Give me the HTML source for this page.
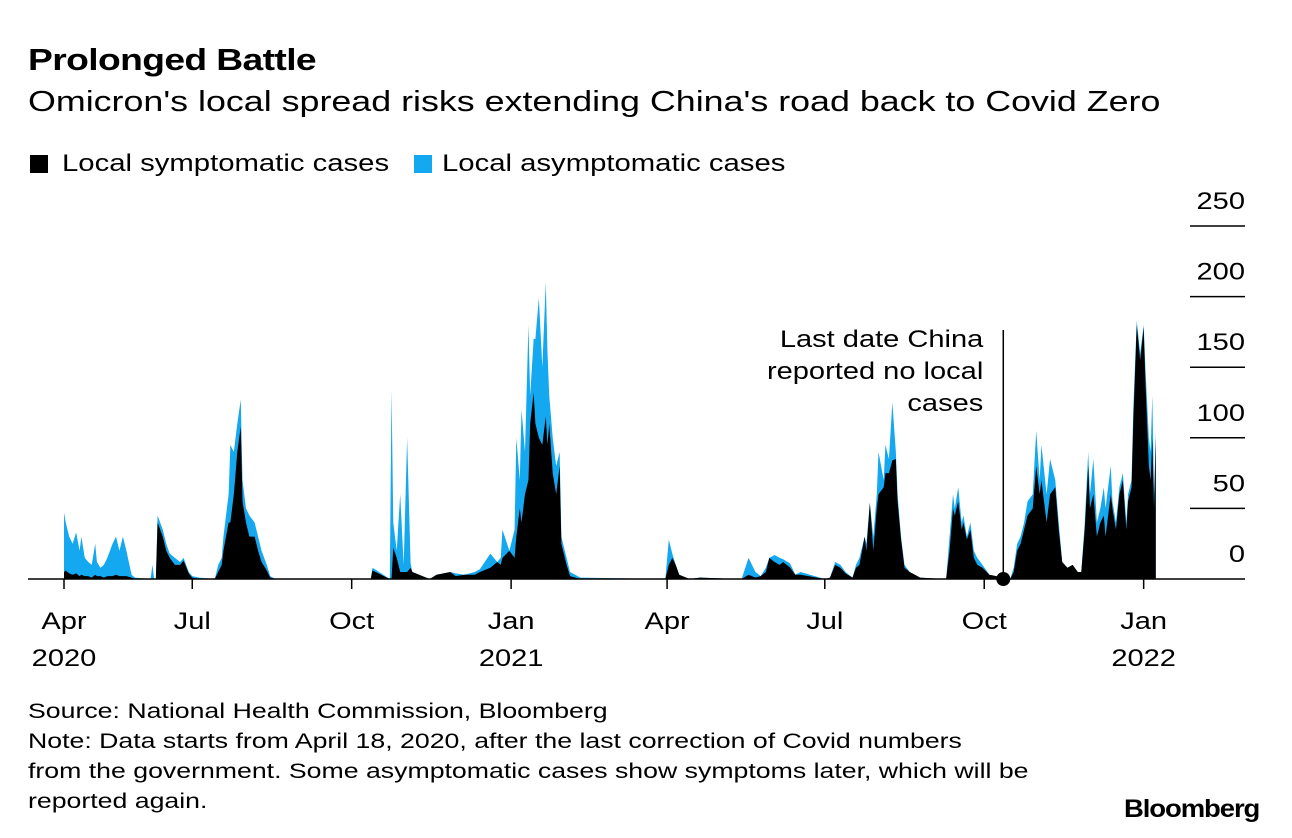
<!DOCTYPE html>
<html><head><meta charset="utf-8"><style>
body{margin:0;background:#fff;font-family:"Liberation Sans",Arial,sans-serif;color:#000;}
#wrap{position:relative;width:1292px;height:838px;overflow:hidden;}
.t{position:absolute;white-space:nowrap;transform-origin:0 0;}
</style></head><body>
<div id="wrap">
<div class="t" style="left:28px;top:42px;font-size:31px;font-weight:bold;letter-spacing:-0.5px;transform:scaleX(1.2)">Prolonged Battle</div>
<div class="t" style="left:28px;top:86px;font-size:29px;transform:scaleX(1.235)">Omicron's local spread risks extending China's road back to Covid Zero</div>
<div class="t" style="left:30px;top:150px;font-size:24px"><span style="display:inline-block;width:18px;height:18px;background:#000;vertical-align:-2px;margin-right:14px"></span><span style="display:inline-block;transform:scaleX(1.22);transform-origin:0 0">Local symptomatic cases</span></div>
<div class="t" style="left:414px;top:150px;font-size:24px"><span style="display:inline-block;width:18px;height:18px;background:#14a8f0;vertical-align:-2px;margin-right:10px"></span><span style="display:inline-block;transform:scaleX(1.22);transform-origin:0 0">Local asymptomatic cases</span></div>
<svg id="chart" width="1292" height="838" style="position:absolute;left:0;top:0"></svg>
<div class="t" style="left:28px;top:697px;font-size:21px;line-height:30px;transform:scaleX(1.27)">Source: National Health Commission, Bloomberg<br>Note: Data starts from April 18, 2020, after the last correction of Covid numbers<br>from the government. Some asymptomatic cases show symptoms later, which will be<br>reported again.</div>
<div class="t" style="left:1124px;top:795px;font-size:25px;font-weight:bold;letter-spacing:-1px;transform:scaleX(1.1)">Bloomberg</div>
</div>
<script>
const days=[0,1,3,5,7,9,10,12,14,16,18,19,21,23,25,28,30,32,34,36,39,41,50,51,52,53,54,57,59,61,64,67,69,72,74,78,87,89,91,92,95,96,98,100,102,103,105,107,110,112,114,117,119,122,
177,178,188,189,190,192,194,196,198,200,201,211,215,223,226,231,237,240,246,250,252,253,257,260,261,263,264,266,268,269,271,272,274,276,278,279,280,282,284,286,287,290,292,298,
346,347,349,351,353,355,361,367,389,391,395,399,402,405,407,410,413,415,419,422,425,439,442,445,448,451,455,457,459,462,463,465,467,469,470,473,474,476,478,480,481,483,485,488,491,494,508,509,511,513,514,516,518,519,521,523,525,527,530,534,
546,548,550,552,554,556,559,561,563,564,567,569,572,574,576,579,582,585,587,589,591,592,594,596,598,600,601,604,605,607,609,611,613,614,616,617,619,621,623,624,626,627,628,629,630];
const symptomatic=[5,6,4,3,4,2,3,2,2,1,3,2,2,1,2,2,3,2,2,2,1,0,0,0,0,0,40,30,20,15,10,10,13,4,1,0,0,5,10,20,40,40,60,90,108,55,40,30,30,20,12,6,1,0,
0,6,0,0,22,15,5,5,5,8,5,0,3,5,2,3,3,5,8,12,10,15,20,15,30,50,40,60,70,110,132,110,100,95,115,95,110,75,60,80,25,10,2,0,0,
0,10,15,10,3,0,1,0,0,3,1,2,5,15,12,10,12,8,3,3,0,1,10,8,4,1,8,10,30,20,54,20,50,60,65,75,75,84,85,55,28,8,5,3,1,0,0,20,50,45,55,35,40,28,35,15,10,8,3,0,
5,20,25,35,45,50,80,60,70,40,60,65,35,12,8,10,5,5,35,80,50,60,30,40,45,30,60,50,35,60,70,35,55,65,110,180,155,178,140,80,70,100,50,100,90];
const asymptomatic=[42,34,26,22,29,18,27,13,10,9,22,10,6,9,13,23,27,18,28,18,2,1,0,10,0,0,5,5,5,3,5,2,2,1,1,1,0,5,5,10,20,55,30,20,19,15,10,15,10,10,8,4,1,0,
0,2,0,134,18,5,55,5,95,3,0,0,0,0,2,0,2,2,10,0,5,20,0,20,70,20,80,30,110,20,38,60,99,55,95,65,20,25,20,10,5,5,3,1,0,
0,18,3,0,0,0,0,0,0,12,4,0,3,0,5,5,2,3,0,2,0,0,2,2,1,0,2,5,0,5,0,10,10,30,5,20,10,41,5,5,2,2,0,0,0,0,0,10,10,5,10,5,5,2,5,5,5,2,0,0,
3,5,5,5,10,10,25,10,25,20,25,5,5,0,0,0,0,0,5,10,10,25,10,10,20,20,20,5,5,5,5,5,5,5,10,3,5,2,10,20,20,30,10,5,5];
const yTicks=[0,50,100,150,200,250];
const tickDays=[0,74,166,258,348,439,531,623];
const tickMonths=["Apr","Jul","Oct","Jan","Apr","Jul","Oct","Jan"];
const tickYears=["2020","","","2021","","","","2022"];
const markerDay=542;
const annotationLines=["Last date China","reported no local","cases"];

const NS="http://www.w3.org/2000/svg";
const svg=document.getElementById('chart');
const x=d=>64+d*1.733;
const y=v=>579-v*1.412;
function mk(tag,attrs,parent){const e=document.createElementNS(NS,tag);for(const k in attrs)e.setAttribute(k,attrs[k]);(parent||svg).appendChild(e);return e;}
function widen(t){const w=t.getComputedTextLength();t.setAttribute('textLength',w*1.21);t.setAttribute('lengthAdjust','spacingAndGlyphs');}

let totTop=[],symTop=[];
for(let i=0;i<days.length;i++){totTop.push(x(days[i])+','+y(symptomatic[i]+asymptomatic[i]));symTop.push(x(days[i])+','+y(symptomatic[i]));}
const base=x(days[days.length-1])+','+y(0)+' '+x(days[0])+','+y(0);
const aArea=mk('polygon',{points:totTop.join(' ')+' '+base,fill:'#14a8f0'});


const sArea=mk('polygon',{points:symTop.join(' ')+' '+base,fill:'#000'});



yTicks.forEach(v=>{
  if(v>0){const l=mk('line',{x1:1190,x2:1245,y1:y(v),y2:y(v),stroke:'#000','stroke-width':1.5});
  
  }
  const t=mk('text',{x:1245,y:y(v)-17,'text-anchor':'end','font-size':24,'font-family':'Liberation Sans, sans-serif'});
  t.textContent=v;
  
  
  widen(t);
});
const ax=mk('line',{x1:28,x2:1245,y1:y(0),y2:y(0),stroke:'#000','stroke-width':1.5});


tickDays.forEach((d,i)=>{
  const tk=mk('line',{x1:x(d),x2:x(d),y1:y(0),y2:y(0)+10,stroke:'#000','stroke-width':1.5});
  
  
  const t=mk('text',{x:x(d),y:629,'text-anchor':'middle','font-size':24,'font-family':'Liberation Sans, sans-serif'});
  t.textContent=tickMonths[i];
  
  
  widen(t);
  if(tickYears[i]){const t2=mk('text',{x:x(d),y:666,'text-anchor':'middle','font-size':24,'font-family':'Liberation Sans, sans-serif'});
  t2.textContent=tickYears[i];
  
  
  widen(t2);}
});
const al=mk('line',{x1:x(markerDay),x2:x(markerDay),y1:330,y2:y(0),stroke:'#000','stroke-width':1.5});


const dot=mk('circle',{cx:x(markerDay),cy:y(0),r:7,fill:'#000'});


annotationLines.forEach((s,i)=>{
  const t=mk('text',{x:x(markerDay)-20,y:347+i*32,'text-anchor':'end','font-size':24,'font-family':'Liberation Sans, sans-serif'});
  t.textContent=s;
  
  
  widen(t);
});
</script>
</body></html>
